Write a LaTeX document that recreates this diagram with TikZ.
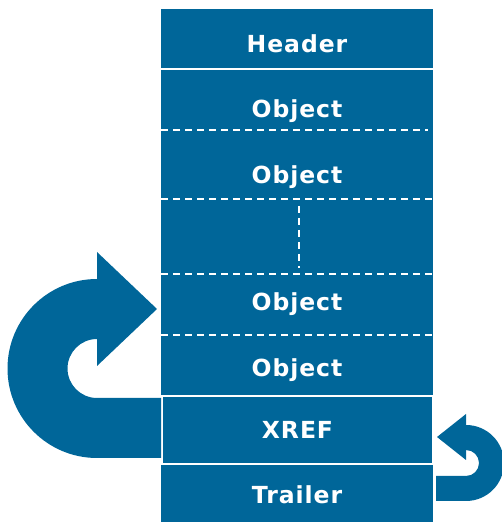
\documentclass[tikz,border=0pt]{standalone}
\usepackage{fontspec}
\usepackage{tikz}
\newfontfamily\cellfont[LetterSpace=4]{DejaVu Sans}
\definecolor{pdfblue}{RGB}{0,102,153}

\begin{document}
\begin{tikzpicture}[x=1pt, y=1pt,
	lbl/.style={text=white, inner sep=0pt, text height=17pt, text depth=0pt,
		font=\cellfont\bfseries\fontsize{23.5}{26}\selectfont},
	sep/.style={white, line width=2pt},
	dsep/.style={white, line width=1.8pt, dash pattern=on 7pt off 5pt}]
		\useasboundingbox (0,0) rectangle (502,522);
		\node[fill=pdfblue, inner sep=0pt, minimum width=272, minimum height=513] (body) at (297,256.5) {};

		\node[lbl] (header) at (297,478) {Header};
		\node[lbl] (obj1) at (297,413) {Object};
		\node[lbl] (obj2) at (297,347.3) {Object};
		\node[lbl] (obj3) at (297,219.5) {Object};
		\node[lbl] (obj4) at (297,154) {Object};
		\node[lbl, fill=pdfblue, draw=white, line width=1.5pt, minimum width=271, minimum height=68] (xref) at (297.5,92) {XREF};
		\node[lbl] (trailer) at (297,27) {Trailer};

		\draw[sep] (161,453) -- (433,453);
		\draw[dsep] (161,392) -- (428,392);
		\draw[dsep] (161,323) -- (433,323);
		\draw[dsep] (161,248) -- (433,248);
		\draw[dsep] (299,316) -- (299,254);
		\draw[dsep] (161,187) -- (433,187);

		\fill[pdfblue] (161,64) -- (97,64) arc[start angle=-90, end angle=-270, radius=89.5]
			-- (97,270) -- (157,213) -- (97,156) -- (97,183)
			arc[start angle=90, end angle=270, radius=29.5] -- (161,124) -- cycle;
		\fill[pdfblue] (436,21) -- (466,21) arc[start angle=-90, end angle=90, radius=38]
			-- (466,108) -- (437,85) -- (466,62) -- (466,72)
			arc[start angle=90, end angle=-90, radius=13] -- (436,46) -- cycle;
	\end{tikzpicture}
\end{document}
